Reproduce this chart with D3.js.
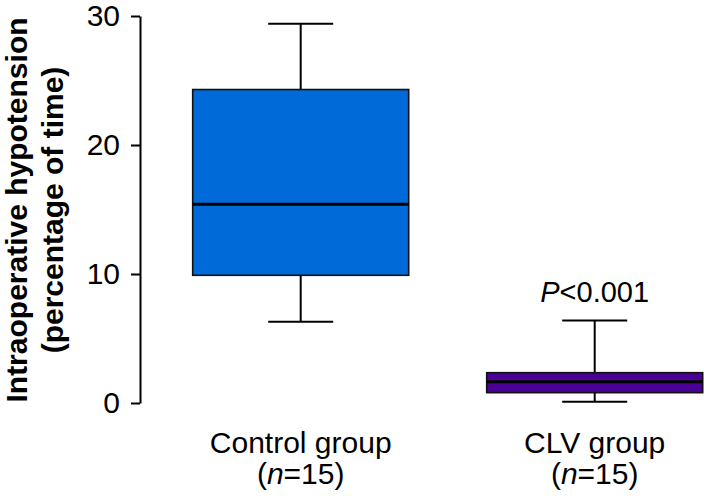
<!DOCTYPE html>
<html>
<head>
<meta charset="utf-8">
<script src="https://cdn.jsdelivr.net/npm/d3@7"></script>
<style>
html,body{margin:0;padding:0;background:#fff;}
svg{display:block;}
text{font-family:"Liberation Sans",Arial,Helvetica,sans-serif;fill:#000;}
</style>
</head>
<body>
<svg id="chart" width="704" height="502"></svg>
<script>
// ---- data ----
const categories = ["Control group", "CLV group"];
const groupSizes = [15, 15];
const whiskerLow = [6.3, 0.1];
const q1 = [9.9, 0.8];
const median = [15.4, 1.65];
const q3 = [24.3, 2.35];
const whiskerHigh = [29.4, 6.4];
const fills = ["#006ad8", "#4a0094"];
const yTicks = [0, 10, 20, 30];
const pLabel = ["P", "<0.001"];
const yTitle = ["Intraoperative hypotension", "(percentage of time)"];

const svg = d3.select("#chart");

const y = d3.scaleLinear().domain([0, 30]).range([403, 16]);
const x = d3.scalePoint().domain(categories).range([300.7, 594.7]);
const boxW = 216;
const capW = 65;

// y axis
const yAxis = svg.append("g")
  .attr("transform", "translate(140,0)")
  .call(d3.axisLeft(y).tickValues(yTicks).tickSize(9).tickSizeOuter(0).tickPadding(11));
yAxis.select(".domain").attr("stroke", "#000").attr("stroke-width", 2);
yAxis.selectAll(".tick line").attr("stroke", "#000").attr("stroke-width", 2);
yAxis.selectAll(".tick text").style("font-size", "30px").attr("fill", "#000");

// y title
const yt = svg.append("text")
  .attr("transform", `translate(0,${210}) rotate(-90)`)
  .attr("text-anchor", "middle")
  .style("font-size", "30px").style("font-weight", "bold");
yt.append("tspan").attr("x", 0).attr("y", 27).text(yTitle[0]);
yt.append("tspan").attr("x", 0).attr("y", 63).text(yTitle[1]);

// boxes
const data = categories.map((c, i) => ({
  c, lo: whiskerLow[i], q1: q1[i], med: median[i], q3: q3[i], hi: whiskerHigh[i], fill: fills[i], n: groupSizes[i]
}));

const g = svg.append("g").selectAll("g").data(data).join("g");

// whisker stems
g.append("line")
  .attr("x1", d => x(d.c)).attr("x2", d => x(d.c))
  .attr("y1", d => y(d.hi)).attr("y2", d => y(d.q3))
  .attr("stroke", "#000").attr("stroke-width", 2);
g.append("line")
  .attr("x1", d => x(d.c)).attr("x2", d => x(d.c))
  .attr("y1", d => y(d.q1)).attr("y2", d => y(d.lo))
  .attr("stroke", "#000").attr("stroke-width", 2);
// caps
g.append("line")
  .attr("x1", d => x(d.c) - capW / 2).attr("x2", d => x(d.c) + capW / 2)
  .attr("y1", d => y(d.hi)).attr("y2", d => y(d.hi))
  .attr("stroke", "#000").attr("stroke-width", 2);
g.append("line")
  .attr("x1", d => x(d.c) - capW / 2).attr("x2", d => x(d.c) + capW / 2)
  .attr("y1", d => y(d.lo)).attr("y2", d => y(d.lo))
  .attr("stroke", "#000").attr("stroke-width", 2);
// box
g.append("rect")
  .attr("x", d => x(d.c) - boxW / 2).attr("width", boxW)
  .attr("y", d => y(d.q3)).attr("height", d => y(d.q1) - y(d.q3))
  .attr("fill", d => d.fill).attr("stroke", "#111").attr("stroke-width", 1.6);
// median
g.append("line")
  .attr("x1", d => x(d.c) - boxW / 2).attr("x2", d => x(d.c) + boxW / 2)
  .attr("y1", d => y(d.med)).attr("y2", d => y(d.med))
  .attr("stroke", "#000").attr("stroke-width", 3);

// category labels
g.append("text")
  .attr("x", d => x(d.c)).attr("y", 453)
  .attr("text-anchor", "middle").style("font-size", "30px")
  .text(d => d.c);
const nt = g.append("text")
  .attr("x", d => x(d.c)).attr("y", 484)
  .attr("text-anchor", "middle").style("font-size", "30px");
nt.append("tspan").text("(");
nt.append("tspan").style("font-style", "italic").text("n");
nt.append("tspan").text(d => "=" + d.n + ")");

// P value label
const pt = svg.append("text")
  .attr("x", x(categories[1])).attr("y", 302)
  .attr("text-anchor", "middle").style("font-size", "29px");
pt.append("tspan").style("font-style", "italic").text(pLabel[0]);
pt.append("tspan").text(pLabel[1]);
</script>
</body>
</html>
